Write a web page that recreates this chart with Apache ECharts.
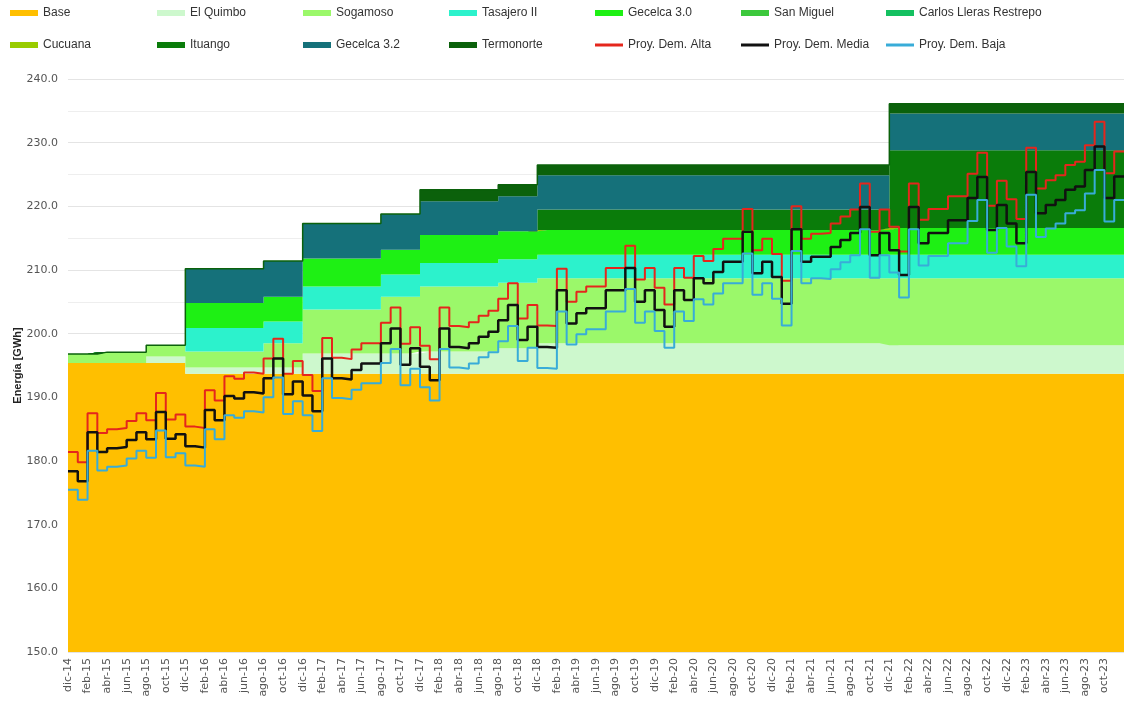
<!DOCTYPE html>
<html>
<head>
<meta charset="utf-8">
<script src="https://cdn.jsdelivr.net/npm/echarts@6/dist/echarts.min.js"></script>
<style>
html, body { margin: 0; padding: 0; background: #fff; }
#chart { width: 1134px; height: 705px; }
</style>
</head>
<body>
<div id="chart"></div>
<script>
// meses dic-14 .. dic-23
var monthNames = ['ene', 'feb', 'mar', 'abr', 'may', 'jun', 'jul', 'ago', 'sep', 'oct', 'nov', 'dic'];
var categories = ['dic-14'];
for (var yy = 15; yy <= 23; yy++) {
    for (var mm = 0; mm < 12; mm++) categories.push(monthNames[mm] + '-' + yy);
}

// capacidad por tramo (mes de inicio de cada tramo)
var periodStart  = [0, 3, 8, 12, 20, 24, 32, 36, 44, 48, 84];
var base         = [195.4, 195.4, 195.4, 193.7, 193.7, 193.7, 193.7, 193.7, 193.7, 193.7, 193.7];
var elQuimbo     = [0, 0, 1.0, 1.0, 1.0, 3.2, 3.2, 3.5, 4.0, 4.8, 4.5];
var sogamoso     = [1.4, 1.7, 1.8, 2.5, 3.8, 6.9, 8.9, 10.2, 10.3, 10.2, 10.5];
var tasajero     = [0, 0, 0, 3.7, 3.4, 3.6, 3.5, 3.7, 3.7, 3.7, 3.7];
var gecelca30    = [0, 0, 0, 3.9, 3.9, 4.4, 3.9, 4.4, 4.4, 3.9, 4.2];
var sanMiguel    = [0, 0, 0, 0, 0, 0, 0, 0, 0, 0, 0];
var carlosLleras = [0, 0, 0, 0, 0, 0, 0, 0, 0, 0, 0];
var cucuana      = [0, 0, 0, 0, 0, 0, 0, 0, 0, 0, 0];
var ituango      = [0, 0, 0, 0, 0, 0, 0, 0, 0, 3.2, 12.2];
var gecelca32    = [0, 0, 0, 5.4, 5.6, 5.5, 5.6, 5.3, 5.5, 5.4, 5.8];
var termonorte   = [0, 0, 0, 0, 0, 0, 0, 1.8, 1.8, 1.6, 1.5];

// proyecciones de demanda
var demAlta = [
    181.4, 179.8, 187.5, 184.4, 185.0, 185.2, 186.3, 187.5, 186.4, 190.7, 186.5, 187.3,
    185.4, 185.2, 191.1, 189.5, 193.3, 192.9, 193.9, 193.7, 196.1, 199.2, 193.7, 195.7,
    193.5, 191.0, 199.3, 196.2, 196.0, 197.5, 198.5, 198.5, 201.7, 204.1, 198.4, 201.0,
    198.1, 196.0, 204.1, 201.2, 201.0, 201.8, 202.8, 203.6, 205.5, 207.9, 202.4, 204.5,
    201.3, 201.2, 210.2, 205.0, 206.6, 207.4, 207.4, 210.3, 210.3, 213.8, 208.5, 210.3,
    207.2, 204.6, 210.3, 208.8, 212.2, 211.4, 213.3, 214.9, 214.9, 219.6, 213.1, 214.9,
    212.5, 208.3, 220.0, 214.9, 215.7, 215.8, 217.3, 218.4, 219.5, 223.6, 216.0, 219.5,
    216.8, 212.9, 223.6, 217.9, 219.6, 219.6, 221.6, 221.6, 225.1, 228.4, 220.1, 224.0,
    221.1, 218.0, 229.2, 222.8, 224.1, 224.9, 226.5, 227.0, 229.6, 233.3, 225.2, 228.6,
    228.6
];
var demMedia = [
    178.4, 176.8, 184.5, 181.4, 182.0, 182.2, 183.3, 184.5, 183.4, 187.7, 183.5, 184.2,
    182.3, 182.1, 188.0, 186.4, 190.2, 189.8, 190.8, 190.6, 193.0, 196.1, 190.5, 192.5,
    190.3, 187.8, 196.1, 193.0, 192.8, 194.3, 195.3, 195.3, 198.5, 200.8, 195.1, 197.7,
    194.8, 192.7, 200.8, 197.9, 197.7, 198.5, 199.5, 200.3, 202.1, 204.5, 199.0, 201.1,
    197.9, 197.8, 206.8, 201.6, 203.2, 204.0, 204.0, 206.8, 206.8, 210.3, 205.0, 206.8,
    203.7, 201.1, 206.8, 205.3, 208.7, 207.9, 209.7, 211.3, 211.3, 216.0, 209.5, 211.3,
    208.9, 204.7, 216.4, 211.3, 212.1, 212.1, 213.6, 214.7, 215.8, 219.9, 212.3, 215.8,
    213.1, 209.2, 219.9, 214.2, 215.8, 215.8, 217.8, 217.8, 221.3, 224.6, 216.3, 220.2,
    217.3, 214.2, 225.4, 218.9, 220.2, 221.0, 222.6, 223.1, 225.7, 229.4, 221.3, 224.7,
    224.7
];
var demBaja = [
    175.5, 173.9, 181.6, 178.5, 179.1, 179.3, 180.4, 181.6, 180.5, 184.8, 180.6, 181.2,
    179.3, 179.1, 185.0, 183.4, 187.2, 186.8, 187.8, 187.6, 190.0, 193.1, 187.4, 189.4,
    187.2, 184.7, 193.0, 189.9, 189.7, 191.2, 192.2, 192.2, 195.4, 197.6, 191.9, 194.5,
    191.6, 189.5, 197.6, 194.7, 194.5, 195.3, 196.3, 197.1, 198.8, 201.2, 195.7, 197.8,
    194.6, 194.5, 203.5, 198.3, 199.9, 200.7, 200.7, 203.5, 203.5, 207.0, 201.7, 203.5,
    200.4, 197.8, 203.5, 202.0, 205.4, 204.6, 206.3, 207.9, 207.9, 212.6, 206.1, 207.9,
    205.5, 201.3, 213.0, 207.9, 208.7, 208.6, 210.1, 211.2, 212.3, 216.4, 208.8, 212.3,
    209.6, 205.7, 216.4, 210.7, 212.2, 212.2, 214.2, 214.2, 217.7, 221.0, 212.7, 216.6,
    213.7, 210.6, 221.8, 215.2, 216.5, 217.3, 218.9, 219.4, 222.0, 225.7, 217.6, 221.0,
    221.0
];

var yTicks = [150, 160, 170, 180, 190, 200, 210, 220, 230, 240];

// valor mensual a partir de los tramos
function expand(vals) {
    var out = [];
    for (var i = 0; i < categories.length; i++) {
        var p = 0;
        while (p + 1 < periodStart.length && periodStart[p + 1] <= i) p++;
        out.push(vals[p]);
    }
    return out;
}

var layers = [
    { name: 'Base', vals: base, color: '#ffbf00' },
    { name: 'El Quimbo', vals: elQuimbo, color: '#cdf8cd' },
    { name: 'Sogamoso', vals: sogamoso, color: '#9bf86a' },
    { name: 'Tasajero II', vals: tasajero, color: '#2cf2cc' },
    { name: 'Gecelca 3.0', vals: gecelca30, color: '#1ef014' },
    { name: 'San Miguel', vals: sanMiguel, color: '#3cc83c' },
    { name: 'Carlos Lleras Restrepo', vals: carlosLleras, color: '#14c060' },
    { name: 'Cucuana', vals: cucuana, color: '#99cc00' },
    { name: 'Ituango', vals: ituango, color: '#0a7c0a' },
    { name: 'Gecelca 3.2', vals: gecelca32, color: '#15717a' },
    { name: 'Termonorte', vals: termonorte, color: '#0b610b' }
];
var lines = [
    { name: 'Proy. Dem. Alta', vals: demAlta, color: '#e5261c', width: 2 },
    { name: 'Proy. Dem. Media', vals: demMedia, color: '#111111', width: 2.5 },
    { name: 'Proy. Dem. Baja', vals: demBaja, color: '#38acd8', width: 2 }
];

var series = [];
layers.forEach(function (l) {
    var top = l.name === 'Termonorte';
    series.push({
        name: l.name,
        type: 'line',
        stack: 'gen',
        step: 'end',
        symbol: 'none',
        data: expand(l.vals),
        itemStyle: { color: l.color },
        lineStyle: { width: top ? 1.5 : 0, color: l.color },
        areaStyle: { color: l.color, opacity: 1 },
        emphasis: { disabled: true },
        z: 2
    });
});
lines.forEach(function (l) {
    series.push({
        name: l.name,
        type: 'line',
        step: 'end',
        symbol: 'none',
        data: l.vals,
        itemStyle: { color: l.color },
        lineStyle: { width: l.width, color: l.color },
        emphasis: { disabled: true },
        z: 5
    });
});

// leyenda en rejilla 7 x 2
var legendCols = [10, 157, 303, 449, 595, 741, 886];
var legendRows = [7, 39];
var legendNames = layers.map(function (l) { return l.name; }).concat(lines.map(function (l) { return l.name; }));
var legends = legendNames.map(function (n, i) {
    var isLine = i >= layers.length;
    return {
        data: [n],
        left: legendCols[i % 7],
        top: legendRows[Math.floor(i / 7)],
        padding: 0,
        icon: 'rect',
        itemWidth: 28,
        itemHeight: isLine ? 3 : 6,
        textStyle: { fontSize: 12, color: '#333', fontFamily: 'Liberation Sans, Arial, sans-serif' },
        selectedMode: false
    };
});

var chart = echarts.init(document.getElementById('chart'), null, { renderer: 'canvas' });
chart.setOption({
    animation: false,
    backgroundColor: '#fff',
    textStyle: { fontFamily: 'Liberation Sans, Arial, sans-serif' },
    legend: legends,
    grid: { left: 68, right: 10, top: 79, bottom: 53, containLabel: false, outerBoundsMode: 'none' },
    xAxis: {
        type: 'category',
        data: categories,
        boundaryGap: false,
        axisTick: { show: false },
        axisLine: { show: false },
        axisLabel: {
            rotate: 90,
            fontSize: 11,
            fontFamily: 'DejaVu Sans',
            color: '#555',
            margin: 6,
            interval: function (i) { return i % 2 === 0 && i < categories.length - 1; }
        },
        splitLine: { show: false }
    },
    yAxis: {
        type: 'value',
        min: yTicks[0],
        max: yTicks[yTicks.length - 1],
        interval: 10,
        name: 'Energía [GWh]',
        nameLocation: 'middle',
        nameGap: 45,
        nameMoveOverlap: false,
        nameTextStyle: { fontSize: 11, fontWeight: 'bold', color: '#222' },
        axisLine: { show: false },
        axisTick: { show: false },
        axisLabel: {
            fontSize: 11,
            fontFamily: 'DejaVu Sans',
            color: '#555',
            margin: 10,
            formatter: function (v) { return v.toFixed(1); }
        },
        splitLine: { lineStyle: { color: '#e4e4e4', width: 1 } },
        minorTick: { show: false, splitNumber: 2 },
        minorSplitLine: { show: true, lineStyle: { color: '#eeeeee', width: 1 } }
    },
    series: series
});
</script>
</body>
</html>
